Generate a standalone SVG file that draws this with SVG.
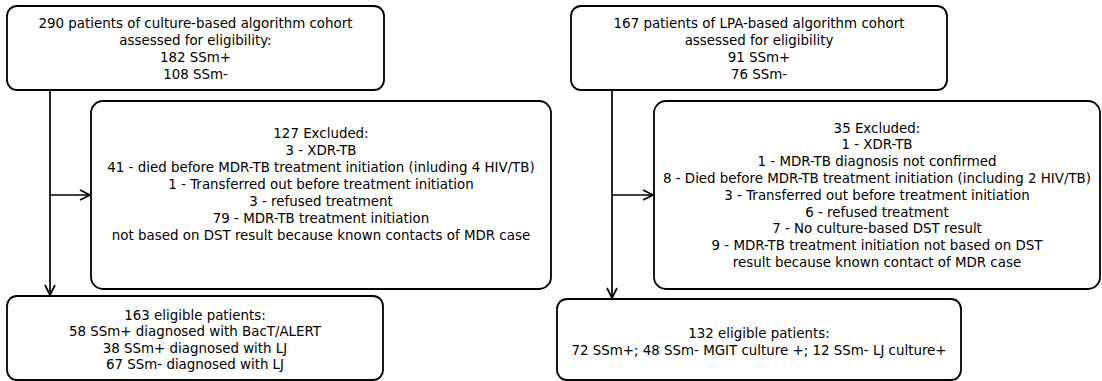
<svg xmlns="http://www.w3.org/2000/svg" width="1102" height="381" viewBox="0 0 1102 381">
<style>
.box{fill:#fff;stroke:#000;stroke-width:1.8}
.t{font-family:"DejaVu Sans",Verdana,sans-serif;font-size:13.4px;fill:#000;text-anchor:middle}
.c{fill:none;stroke:#000;stroke-width:1.7}
</style>
<defs>
<marker id="arr" markerUnits="userSpaceOnUse" markerWidth="14" markerHeight="14" refX="11" refY="6" orient="auto">
<path d="M1,1 L11,6 L1,11" fill="none" stroke="#000" stroke-width="1.7"/>
</marker>
</defs>
<rect width="1102" height="381" fill="#fff"/>
<g id="connectors">
<line class="c" x1="50" y1="90" x2="50" y2="295" marker-end="url(#arr)"/>
<line class="c" x1="50" y1="195" x2="90" y2="195" marker-end="url(#arr)"/>
<line class="c" x1="612" y1="90" x2="612" y2="298" marker-end="url(#arr)"/>
<line class="c" x1="612" y1="195" x2="653" y2="195" marker-end="url(#arr)"/>
</g>
<g id="left-top">
<rect class="box" x="7" y="6" width="377" height="84" rx="10"/>
<text class="t" x="195.5" y="28">290 patients of culture-based algorithm cohort</text>
<text class="t" x="195.5" y="45">assessed for eligibility:</text>
<text class="t" x="195.5" y="62">182 SSm+</text>
<text class="t" x="195.5" y="79">108 SSm-</text>
</g>
<g id="left-excluded">
<rect class="box" x="91" y="101" width="460" height="188" rx="12"/>
<text class="t" x="321" y="137.5">127 Excluded:</text>
<text class="t" x="321" y="154.5">3 - XDR-TB</text>
<text class="t" x="321" y="171.5">41 - died before MDR-TB treatment initiation (inluding 4 HIV/TB)</text>
<text class="t" x="321" y="188.5">1 - Transferred out before treatment initiation</text>
<text class="t" x="321" y="205.5">3 - refused treatment</text>
<text class="t" x="321" y="222.5">79 - MDR-TB treatment initiation</text>
<text class="t" x="321" y="239.5">not based on DST result because known contacts of MDR case</text>
</g>
<g id="left-bottom">
<rect class="box" x="7" y="296" width="376" height="84" rx="10"/>
<text class="t" x="195" y="319.5">163 eligible patients:</text>
<text class="t" x="195" y="336">58 SSm+ diagnosed with BacT/ALERT</text>
<text class="t" x="195" y="352.5">38 SSm+ diagnosed with LJ</text>
<text class="t" x="195" y="369">67 SSm- diagnosed with LJ</text>
</g>
<g id="right-top">
<rect class="box" x="571" y="6" width="376" height="84" rx="10"/>
<text class="t" x="759" y="28">167 patients of LPA-based algorithm cohort</text>
<text class="t" x="759" y="45">assessed for eligibility</text>
<text class="t" x="759" y="62">91 SSm+</text>
<text class="t" x="759" y="79">76 SSm-</text>
</g>
<g id="right-excluded">
<rect class="box" x="654" y="101" width="446" height="188" rx="12"/>
<text class="t" x="877" y="132.5">35 Excluded:</text>
<text class="t" x="877" y="149.3">1 - XDR-TB</text>
<text class="t" x="877" y="166.1">1 - MDR-TB diagnosis not confirmed</text>
<text class="t" x="877" y="182.9">8 - Died before MDR-TB treatment initiation (including 2 HIV/TB)</text>
<text class="t" x="877" y="199.7">3 - Transferred out before treatment initiation</text>
<text class="t" x="877" y="216.5">6 - refused treatment</text>
<text class="t" x="877" y="233.3">7 - No culture-based DST result</text>
<text class="t" x="877" y="250.1">9 - MDR-TB treatment initiation not based on DST</text>
<text class="t" x="877" y="266.9">result because known contact of MDR case</text>
</g>
<g id="right-bottom">
<rect class="box" x="557" y="299" width="404" height="81" rx="10"/>
<text class="t" x="759" y="337.5">132 eligible patients:</text>
<text class="t" x="759" y="354.5">72 SSm+; 48 SSm- MGIT culture +; 12 SSm- LJ culture+</text>
</g>
</svg>
